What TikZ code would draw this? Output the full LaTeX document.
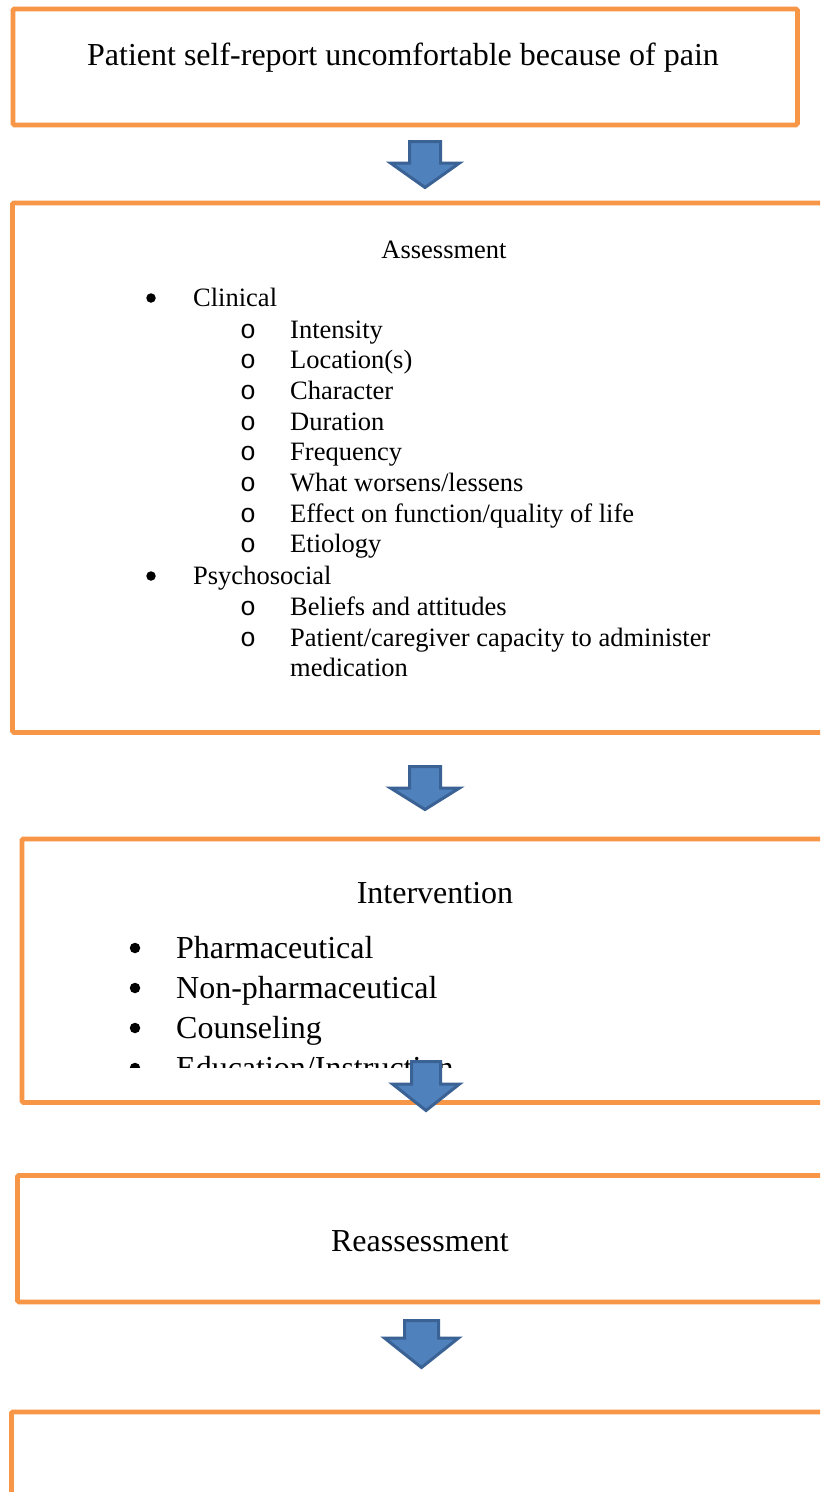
\documentclass[tikz,border=0pt]{standalone}
\usepackage{fontspec}
\setmainfont{Liberation Serif}
\setmonofont{Liberation Mono}
\usetikzlibrary{positioning}

\definecolor{boxorange}{HTML}{F79646}
\definecolor{arrowfill}{HTML}{4F81BD}
\definecolor{arrowline}{HTML}{3A6294}

% block arrow: centre x, top, neck, tip, half shaft, half head
\newcommand{\flowarrow}[6]{%
\draw[bluearrow] ({#1-#5},#2) -- ({#1+#5},#2) -- ({#1+#5},#3) -- ({#1+#6},#3)
  -- (#1,#4) -- ({#1-#6},#3) -- ({#1-#5},#3) -- cycle;}

\begin{document}
\begin{tikzpicture}
[x=1pt, y=-1pt,
 flowbox/.style={draw=boxorange, line width=4.8pt, rounded corners=1.5pt, anchor=north west, inner sep=0pt},
 bigtext/.style={font=\fontsize{32}{38}\selectfont, inner sep=0pt, anchor=base},
 bigitem/.style={font=\fontsize{32}{38}\selectfont, inner sep=0pt, anchor=base west},
 smalltext/.style={font=\fontsize{26.5}{31}\selectfont, inner sep=0pt, anchor=base},
 smallitem/.style={font=\fontsize{26.5}{31}\selectfont, inner sep=0pt, anchor=base west},
 subdot/.style={font=\ttfamily\fontsize{26.5}{31}\selectfont, inner sep=0pt, anchor=base},
 bulletdot/.style={circle, fill=black, inner sep=0pt, minimum size=9.5pt},
 bigdot/.style={circle, fill=black, inner sep=0pt, minimum size=10.5pt},
 bluearrow/.style={fill=arrowfill, draw=arrowline, line width=3pt, line join=miter}]
\clip (0,0) rectangle (820,1492);
\fill[white] (0,0) rectangle (820,1492);

% boxes
\node[flowbox, minimum width=784.5pt, minimum height=116pt] (reportbox) at (10.5,6.5) {};
\node[flowbox, minimum width=840pt, minimum height=529.5pt] (assessbox) at (10,200.5) {};
\node[flowbox, minimum width=840pt, minimum height=263.5pt] (interbox) at (19.5,836.5) {};
\node[flowbox, minimum width=840pt, minimum height=126.5pt] (reassessbox) at (15,1173) {};
\node[flowbox, minimum width=840pt, minimum height=200pt] (nextbox) at (9,1409.5) {};

% top box
\node[bigtext] (report) at (403,65) {Patient self-report uncomfortable because of pain};

% assessment
\node[smalltext] (assess) at (444,258) {Assessment};
\node[bulletdot] (clinbul) at (151,298) {};
\node[smallitem] (clinical) at (193,306) {Clinical};
\foreach \txt [count=\i] in {Intensity, Location(s), Character, Duration, Frequency,
  What worsens/lessens, Effect on function/quality of life, Etiology}
{
  \node[subdot] (clindot\i) at (248,{338+(\i-1)*30.7}) {o};
  \node[smallitem] (clin\i) at (290,{338+(\i-1)*30.7}) {\txt};
}
\node[bulletdot] (psychbul) at (151,576) {};
\node[smallitem] (psychosocial) at (193,584) {Psychosocial};
\node[subdot] (psychdot1) at (248,615) {o};
\node[smallitem] (psych1) at (290,615) {Beliefs and attitudes};
\node[subdot] (psychdot2) at (248,646) {o};
\node[smallitem] (psych2) at (290,646) {Patient/caregiver capacity to administer};
\node[smallitem] (psych2b) at (290,676.5) {medication};

% intervention
\node[bigtext] (inter) at (435,903) {Intervention};
\begin{scope}
\clip (0,0) rectangle (820,1067);
\foreach \txt [count=\i] in {Pharmaceutical, Non-pharmaceutical, Counseling, Education/Instruction}
{
  \node[bigdot] (interbul\i) at (135,{948+(\i-1)*40}) {};
  \node[bigitem] (inter\i) at (176,{958+(\i-1)*40}) {\txt};
}
\end{scope}

% reassessment
\node[bigtext] (reassess) at (420,1251) {Reassessment};

% arrows
\flowarrow{425}{141.5}{163}{187.5}{15.5}{34.5}
\flowarrow{425}{766.5}{788}{809.5}{15.5}{34.5}
\flowarrow{426}{1061.5}{1084}{1110.5}{14.5}{33.5}
\flowarrow{421.5}{1320.5}{1338}{1367.5}{17}{37}
\end{tikzpicture}
\end{document}
